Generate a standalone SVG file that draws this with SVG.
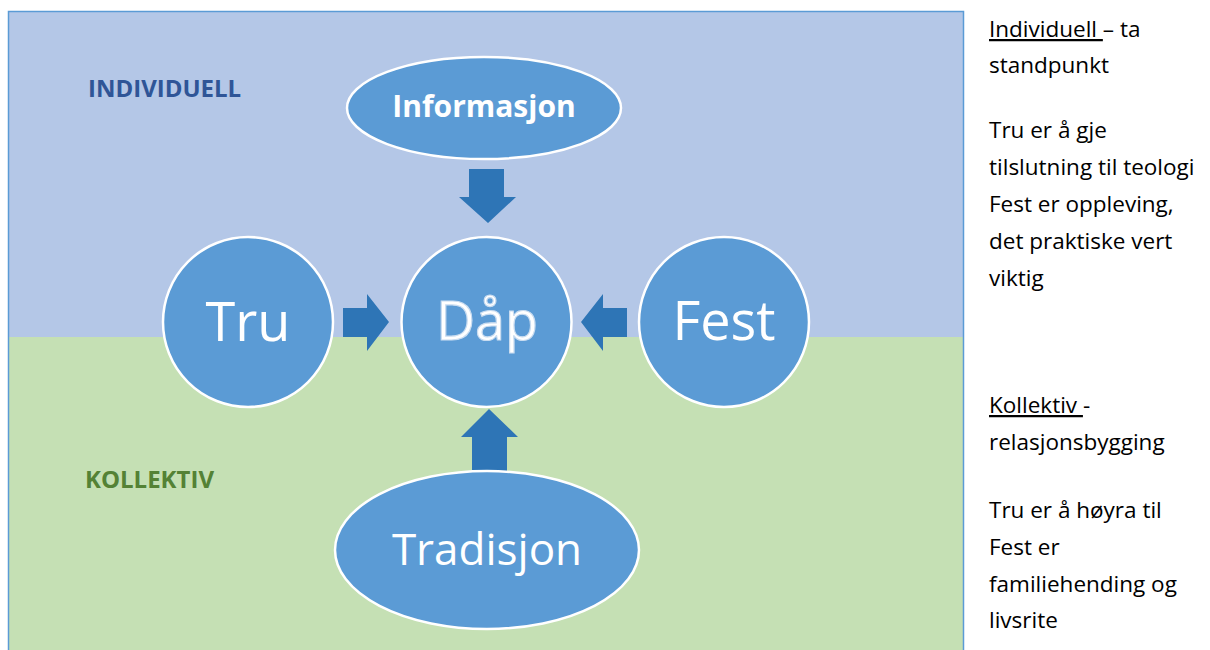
<svg xmlns="http://www.w3.org/2000/svg" width="1210" height="650" viewBox="0 0 1210 650">
<style>
.node{fill:#5b9bd5;stroke:#ffffff;stroke-width:2.5}
.arrow{fill:#2e75b6}
.big{font-family:"Open Sans","Noto Sans",sans-serif;fill:#ffffff;text-anchor:middle}
.side{font-family:"Open Sans","Noto Sans",sans-serif;font-size:22.5px;fill:#000000}
.zone{font-family:"Open Sans","Noto Sans",sans-serif;font-weight:bold;font-size:24px}
</style>
<rect x="0" y="0" width="1210" height="650" fill="#ffffff"/>
<g id="background">
<rect x="8.5" y="11.5" width="955" height="326" fill="#b4c7e7"/>
<rect x="8.5" y="337" width="955" height="320" fill="#c5e0b4"/>
<rect x="8.5" y="11.5" width="955" height="660" fill="none" stroke="#5b9bd5" stroke-width="1.5"/>
<text class="zone" x="88" y="97" fill="#2f5597">INDIVIDUELL</text>
<text class="zone" x="85" y="488" fill="#548235">KOLLEKTIV</text>
</g>
<g id="connectors">
<polygon class="arrow" points="469,169 504,169 504,197 516,197 488,223 459,197 469,197"/>
<polygon class="arrow" points="343,308 367,308 367,294 389,322 367,351 367,337 343,337"/>
<polygon class="arrow" points="627,308 603,308 603,294 581,322 603,351 603,337 627,337"/>
<polygon class="arrow" points="472,471 507,471 507,437 518,437 489,409 461,437 472,437"/>
</g>
<g id="informasjon">
<ellipse class="node" cx="484" cy="108" rx="137" ry="51"/>
<text class="big" x="484" y="117" font-size="30" font-weight="bold">Informasjon</text>
</g>
<g id="tru">
<circle class="node" cx="248" cy="322" r="85"/>
<text class="big" x="248" y="341" font-size="54">Tru</text>
</g>
<g id="daap">
<circle class="node" cx="486.5" cy="322" r="85"/>
<text class="big" x="487" y="340" font-size="54" stroke="#c9dcf0" stroke-width="1.2">Dåp</text>
</g>
<g id="fest">
<circle class="node" cx="724" cy="322" r="85"/>
<text class="big" x="724" y="340" font-size="54">Fest</text>
</g>
<g id="tradisjon">
<ellipse class="node" cx="487" cy="550" rx="152" ry="79"/>
<text class="big" x="487" y="565" font-size="44">Tradisjon</text>
</g>
<g id="notes">
<text class="side" x="989" y="37"><tspan text-decoration="underline">Individuell </tspan>– ta</text>
<text class="side" x="989" y="73">standpunkt</text>
<text class="side" x="989" y="138">Tru er å gje</text>
<text class="side" x="989" y="175">tilslutning til teologi</text>
<text class="side" x="989" y="212">Fest er oppleving,</text>
<text class="side" x="989" y="249">det praktiske vert</text>
<text class="side" x="989" y="286">viktig</text>
<text class="side" x="989" y="413"><tspan text-decoration="underline">Kollektiv </tspan>-</text>
<text class="side" x="989" y="450">relasjonsbygging</text>
<text class="side" x="989" y="518">Tru er å høyra til</text>
<text class="side" x="989" y="555">Fest er</text>
<text class="side" x="989" y="592">familiehending og</text>
<text class="side" x="989" y="628">livsrite</text>
</g>
</svg>
